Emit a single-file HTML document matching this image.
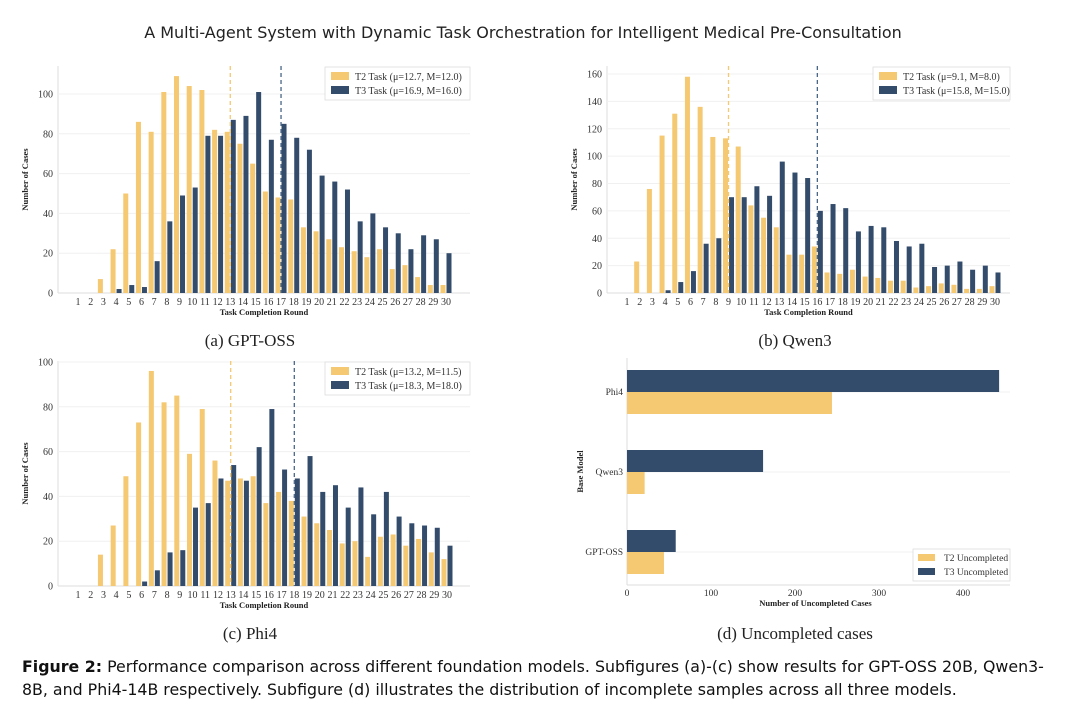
<!DOCTYPE html>
<html><head><meta charset="utf-8">
<style>
body{margin:0;background:#fff;width:1080px;height:710px;overflow:hidden}
svg{display:block}
.serif{font-family:"Liberation Serif",serif}
.sans{font-family:"DejaVu Sans","Liberation Sans",sans-serif}
</style></head>
<body>
<svg id="fig" width="1080" height="710" xmlns="http://www.w3.org/2000/svg">
<text x="523" y="38" text-anchor="middle" class="sans" font-size="16" fill="#222">A Multi-Agent System with Dynamic Task Orchestration for Intelligent Medical Pre-Consultation</text>
<text x="250" y="346" text-anchor="middle" class="serif" font-size="17" fill="#222">(a) GPT-OSS</text>
<text x="795" y="346" text-anchor="middle" class="serif" font-size="17" fill="#222">(b) Qwen3</text>
<text x="250" y="639" text-anchor="middle" class="serif" font-size="17" fill="#222">(c) Phi4</text>
<text x="795" y="639" text-anchor="middle" class="serif" font-size="17" fill="#222">(d) Uncompleted cases</text>
<text x="22" y="672" class="sans" font-size="15.8" fill="#111"><tspan font-weight="bold">Figure 2:</tspan> Performance comparison across different foundation models. Subfigures (a)-(c) show results for GPT-OSS 20B, Qwen3-</text>
<text x="22" y="695" class="sans" font-size="15.8" fill="#111">8B, and Phi4-14B respectively. Subfigure (d) illustrates the distribution of incomplete samples across all three models.</text>
</svg>
<script>
const NS="http://www.w3.org/2000/svg";
const svg=document.getElementById('fig');
const C2="#f5c872", C3="#344c6b";
const rounds=[1,2,3,4,5,6,7,8,9,10,11,12,13,14,15,16,17,18,19,20,21,22,23,24,25,26,27,28,29,30];
const gptT2=[0,0,7,22,50,86,81,101,109,104,102,82,81,75,65,51,48,47,33,31,27,23,21,18,22,12,14,8,4,4];
const gptT3=[0,0,0,2,4,3,16,36,49,53,79,79,87,89,101,77,85,78,72,59,56,52,36,40,33,30,22,29,27,20];
const qwenT2=[0,23,76,115,131,158,136,114,113,107,64,55,48,28,28,34,15,14,17,12,11,9,9,4,5,7,6,3,3,5];
const qwenT3=[0,0,0,2,8,16,36,40,70,70,78,71,96,88,84,60,65,62,45,49,48,38,34,36,19,20,23,17,20,15];
const phiT2=[0,0,14,27,49,73,96,82,85,59,79,56,47,48,49,37,42,38,31,28,25,19,20,13,22,23,18,21,15,12];
const phiT3=[0,0,0,0,0,2,7,15,16,35,37,48,54,47,62,79,52,48,58,42,45,35,44,32,42,31,28,27,26,18];
const models=["Phi4","Qwen3","GPT-OSS"];
const uncT2=[244,21,44];
const uncT3=[443,162,58];
const dTicks=[0,100,200,300,400];

function el(tag,attrs,parent){const e=document.createElementNS(NS,tag);for(const k in attrs)e.setAttribute(k,attrs[k]);(parent||svg).appendChild(e);return e;}
function txt(x,y,s,attrs,parent){const t=el('text',Object.assign({x:x,y:y,'font-family':'Liberation Serif, serif','fill':'#333'},attrs),parent);t.textContent=s;return t;}

function hist(o){
  const g=el('g',{});
  
  
  const xs=r=>o.x1+(r-1)*(o.x30-o.x1)/29;
  const ys=v=>o.y0-v*(o.y0-o.ymaxY)/o.ymax;
  el('line',{x1:o.left,y1:o.top,x2:o.left,y2:o.y0,stroke:'#ddd','stroke-width':1},g);
  el('line',{x1:o.left,y1:o.y0,x2:o.right,y2:o.y0,stroke:'#ddd','stroke-width':1},g);
  o.ticks.forEach(t=>{
    const y=ys(t);
    if(t>0){const gl=el('line',{x1:o.left,y1:y,x2:o.right,y2:y,stroke:'#f0f0f0','stroke-width':1},g);
      }
    const tl=txt(o.left-5,y+3.5,String(t),{'font-size':10,'text-anchor':'end'},g);
    
  });
  const bw=5;
  rounds.forEach((r,i)=>{
    const cx=xs(r);
    const tl=txt(cx,o.y0+12,String(r),{'font-size':10,'text-anchor':'middle'},g);
    
    if(o.t2[i]>0){const b=el('rect',{x:cx-bw-0.5,y:ys(o.t2[i]),width:bw,height:o.y0-ys(o.t2[i]),fill:C2},g);
      }
    if(o.t3[i]>0){const b=el('rect',{x:cx+0.5,y:ys(o.t3[i]),width:bw,height:o.y0-ys(o.t3[i]),fill:C3},g);
      }
  });
  const m2=el('line',{x1:xs(o.m2),y1:o.top,x2:xs(o.m2),y2:o.y0,stroke:C2,'stroke-width':1.3,'stroke-dasharray':'4,3'},g);
  
  const m3=el('line',{x1:xs(o.m3),y1:o.top,x2:xs(o.m3),y2:o.y0,stroke:'#4a6688','stroke-width':1.3,'stroke-dasharray':'4,3'},g);
  
  const yt=txt(0,0,'Number of Cases',{'font-size':8.5,'font-weight':'bold','text-anchor':'middle',fill:'#222',transform:`translate(${o.left-30},${(o.top+o.y0)/2}) rotate(-90)`},g);
  
  const xt=txt((o.left+o.right)/2,o.y0+22,'Task Completion Round',{'font-size':8.5,'font-weight':'bold','text-anchor':'middle',fill:'#222'},g);
  
  const lg=el('g',{},g);
  
  el('rect',{x:o.lx,y:o.top+1,width:o.right-o.lx,height:33,fill:'#fff',stroke:'#ddd','stroke-width':0.8},lg);
  el('rect',{x:o.lx+6,y:o.top+6,width:18,height:8,fill:C2},lg);
  el('rect',{x:o.lx+6,y:o.top+20,width:18,height:8,fill:C3},lg);
  const e1=txt(o.lx+30,o.top+14,o.l2,{'font-size':10},lg);
  const e2=txt(o.lx+30,o.top+28,o.l3,{'font-size':10},lg);
}
hist({name:'chart-gpt-oss',left:58,right:470,top:66,y0:293,ymax:100,ymaxY:94,x1:78,x30:446,t2:gptT2,t3:gptT3,ticks:[0,20,40,60,80,100],m2:13,m3:17,lx:325,l2:'T2 Task  (\u03bc=12.7, M=12.0)',l3:'T3 Task  (\u03bc=16.9, M=16.0)'});
hist({name:'chart-qwen3',left:607,right:1010,top:66,y0:293,ymax:160,ymaxY:74,x1:627,x30:995,t2:qwenT2,t3:qwenT3,ticks:[0,20,40,60,80,100,120,140,160],m2:9,m3:16,lx:873,l2:'T2 Task  (\u03bc=9.1, M=8.0)',l3:'T3 Task  (\u03bc=15.8, M=15.0)'});
hist({name:'chart-phi4',left:58,right:470,top:361,y0:586,ymax:100,ymaxY:362,x1:78,x30:447,t2:phiT2,t3:phiT3,ticks:[0,20,40,60,80,100],m2:13,m3:18,lx:325,l2:'T2 Task  (\u03bc=13.2, M=11.5)',l3:'T3 Task  (\u03bc=18.3, M=18.0)'});

(function(){
  const g=el('g',{});
  
  
  const left=627,right=1010,top=358,bottom=585;
  const xs=v=>left+v*(963-left)/400;
  el('line',{x1:left,y1:top,x2:left,y2:bottom,stroke:'#ddd'},g);
  el('line',{x1:left,y1:bottom,x2:right,y2:bottom,stroke:'#ddd'},g);
  dTicks.forEach(t=>{const l=txt(xs(t),bottom+11,String(t),{'font-size':9.5,'text-anchor':'middle'},g);
    });
  const centers=[392,472,552];
  models.forEach((m,i)=>{
    const c=centers[i];
    el('line',{x1:left,y1:c,x2:right,y2:c,stroke:'#f2f2f2'},g);
    const b3=el('rect',{x:left,y:c-22,width:xs(uncT3[i])-left,height:22,fill:C3},g);
    
    const b2=el('rect',{x:left,y:c,width:xs(uncT2[i])-left,height:22,fill:C2},g);
    
    const l=txt(left-4,c+3,m,{'font-size':9.5,'text-anchor':'end'},g);
    
  });
  const yt=txt(0,0,'Base Model',{'font-size':8.5,'font-weight':'bold','text-anchor':'middle',fill:'#222',transform:`translate(583,${(top+bottom)/2}) rotate(-90)`},g);
  
  const xt=txt((left+right)/2-3,bottom+21,'Number of Uncompleted Cases',{'font-size':8.5,'font-weight':'bold','text-anchor':'middle',fill:'#222'},g);
  
  const lg=el('g',{},g);
  
  el('rect',{x:913,y:549,width:97,height:32,fill:'#fff',stroke:'#ddd','stroke-width':0.8},lg);
  el('rect',{x:918,y:554,width:17,height:7,fill:C2},lg);
  el('rect',{x:918,y:568,width:17,height:7,fill:C3},lg);
  const e1=txt(944,561,'T2 Uncompleted',{'font-size':9.5},lg);
  const e2=txt(944,575,'T3 Uncompleted',{'font-size':9.5},lg);
})();
</script>
</body></html>
